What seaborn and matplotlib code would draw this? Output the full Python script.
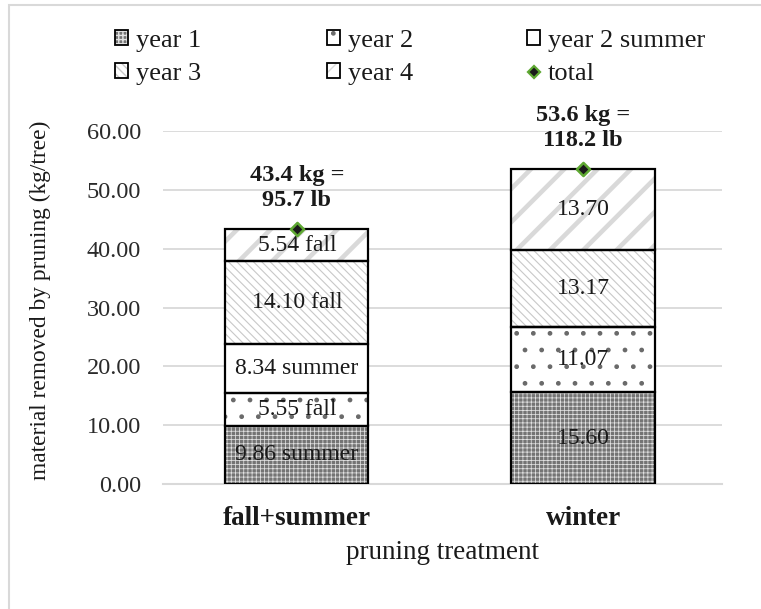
import numpy as np
import pandas as pd
import matplotlib
matplotlib.use("Agg")
import matplotlib.pyplot as plt
import seaborn as sns
from matplotlib.patches import Patch, Rectangle
from matplotlib.lines import Line2D

# ---- data (kg of material per tree) ----
treatments = ["fall+summer", "winter"]
layer_names = ["year 1", "year 2", "year 2 summer", "year 3", "year 4"]
year1 = [9.86, 15.60]
year2 = [5.55, 11.07]
year2_summer = [8.34, 0.0]
year3 = [14.10, 13.17]
year4 = [5.54, 13.70]
# pruning season noted on the fall+summer segments
fall_summer_seasons = ["summer", "fall", "summer", "fall", "fall"]
total_kg = [43.4, 53.6]
total_lb = [95.7, 118.2]
y_ticks = [0, 10, 20, 30, 40, 50, 60]

series = [year1, year2, year2_summer, year3, year4]

# ---- styles per layer: face, hatch, hatch colour, hatch width ----
styles = {
    "year 1": dict(face="#747474", hatch="++++", hc="#e2e2e2", hlw=0.55),
    "year 2": dict(face="white", hatch=".", hc="#6a6a6a", hlw=1.0),
    "year 2 summer": dict(face="white", hatch="", hc="white", hlw=1.0),
    "year 3": dict(face="white", hatch="\\\\\\\\", hc="#c8c8c8", hlw=0.8),
    "year 4": dict(face="white", hatch="/", hc="#d9d9d9", hlw=3.3),
}

sns.set_theme(style="white")
plt.rcParams["font.family"] = ["Liberation Serif", "DejaVu Serif"]
FS_BAR = 17
FS_TOT = 17.5
FS_YTICK = 17.5
FS_XTICK = 19.5
FS_XLAB = 19.5
FS_YLAB = 16.8
FS_LEG = 19
INK = "#1a1a1a"

W, H = 761, 609
fig = plt.figure(figsize=(W / 100, H / 100), dpi=100)
ax = fig.add_axes([163 / W, 1 - 484 / H, 559 / W, 353 / H])


def hatch_lw(p, lw):
    try:
        p.set_hatch_linewidth(lw)
    except AttributeError:
        pass


bottom = np.zeros(len(treatments))
for name, vals in zip(layer_names, series):
    st = styles[name]
    vals = np.asarray(vals, dtype=float)
    sns.barplot(x=treatments, y=vals, bottom=bottom, ax=ax, width=0.5,
                color=st["face"], saturation=1, errorbar=None, zorder=2)
    cont = ax.containers[-1]
    for p in cont:
        p.set_facecolor(st["face"])
        p.set_hatch(st["hatch"])
        p.set_edgecolor(st["hc"])
        p.set_linewidth(0)
        hatch_lw(p, st["hlw"])
        ax.add_patch(Rectangle(p.get_xy(), p.get_width(), p.get_height(),
                               fill=False, edgecolor="black", linewidth=1.6,
                               zorder=3))
    idx = layer_names.index(name)
    labels = []
    for j, v in enumerate(vals):
        if v <= 0:
            labels.append("")
        elif treatments[j] == "fall+summer":
            labels.append(f"{v:.2f} {fall_summer_seasons[idx]}")
        else:
            labels.append(f"{v:.2f}")
    ax.bar_label(cont, labels=labels, label_type="center", fontsize=FS_BAR,
                 color=INK, zorder=4)
    bottom = bottom + vals

# total markers
sns.scatterplot(x=np.arange(len(treatments)), y=total_kg, ax=ax, marker="D",
                s=45, color=INK, edgecolor="#5ea832", linewidth=1.8,
                zorder=5, legend=False)

for i, (kg, lb) in enumerate(zip(total_kg, total_lb)):
    ax.annotate(f"{kg:.1f} kg =\n{lb:.1f} lb", xy=(i, kg), xytext=(0, 13),
                textcoords="offset points", ha="center", va="bottom",
                fontsize=FS_TOT, fontweight="bold", linespacing=1.22,
                color=INK)

# axes styling
ax.set_xlim(-0.4685, 1.486)
ax.set_ylim(0, 60)
ax.set_yticks(y_ticks)
ax.set_yticklabels([f"{t:.2f}" for t in y_ticks], fontsize=FS_YTICK,
                   color="#2a2a2a")
ax.set_xticks(range(len(treatments)))
ax.set_xticklabels(treatments, fontsize=FS_XTICK, fontweight="bold", color=INK)
ax.tick_params(axis="y", length=0, pad=16)
ax.tick_params(axis="x", length=0, pad=16)
ax.yaxis.grid(True, color="#d9d9d9", linewidth=1.3, zorder=0)
ax.set_axisbelow(True)
for side in ["top", "right", "left"]:
    ax.spines[side].set_visible(False)
ax.spines["bottom"].set_color("#d9d9d9")
ax.spines["bottom"].set_linewidth(1.5)
ax.set_ylabel("material removed by pruning (kg/tree)", fontsize=FS_YLAB,
              color=INK)
ax.yaxis.set_label_coords(-0.2, 0.52)
ax.set_xlabel("pruning treatment", fontsize=FS_XLAB, color=INK)
ax.xaxis.set_label_coords(0.5, -0.158)


# legend: three columns placed side by side
def patch_handle(name):
    st = styles[name]
    inner = Patch(facecolor=st["face"], hatch=st["hatch"], edgecolor=st["hc"],
                  linewidth=0)
    hatch_lw(inner, min(st["hlw"], 1.5))
    outer = Patch(facecolor="none", edgecolor="black", linewidth=1.3)
    return (inner, outer)


total_handle = Line2D([], [], linestyle="none", marker="D", markersize=6,
                      markerfacecolor=INK, markeredgecolor="#5ea832",
                      markeredgewidth=1.6)

columns = [
    (115, [patch_handle("year 1"), patch_handle("year 3")], ["year 1", "year 3"]),
    (327, [patch_handle("year 2"), patch_handle("year 4")], ["year 2", "year 4"]),
    (527, [patch_handle("year 2 summer"), total_handle], ["year 2 summer", "total"]),
]
for x0, hs, ls in columns:
    leg = fig.legend(hs, ls, loc="upper left",
                     bbox_to_anchor=(x0 / W, 1 - 30 / H),
                     frameon=False, fontsize=FS_LEG, borderpad=0,
                     borderaxespad=0, handlelength=0.5, handleheight=0.5,
                     handletextpad=0.3, labelspacing=0.42)
    for t in leg.get_texts():
        t.set_color(INK)

# light chart-area border
fig.add_artist(Rectangle((9 / W, -0.05), 1.2, 1 - 5 / H + 0.05,
                         transform=fig.transFigure, fill=False,
                         edgecolor="#d9d9d9", linewidth=1.5))

fig.savefig("out.png", dpi=100)
